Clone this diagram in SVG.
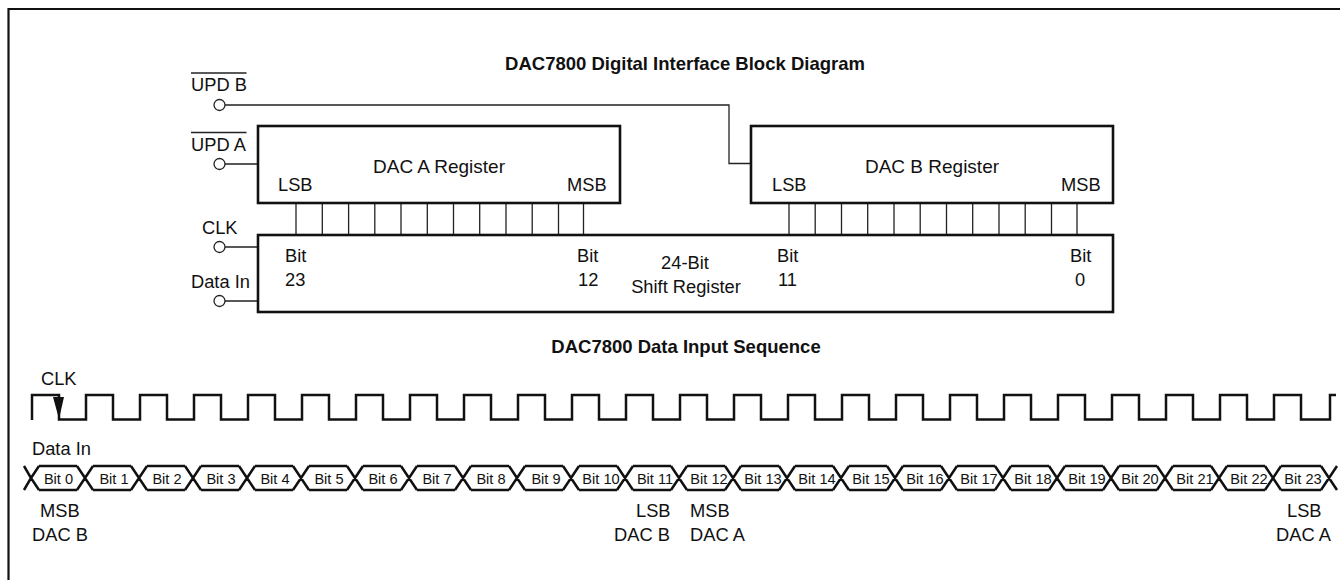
<svg xmlns="http://www.w3.org/2000/svg" width="1340" height="580" viewBox="0 0 1340 580">
<style>
text{font-family:"Liberation Sans",Arial,sans-serif;font-size:18.3px;fill:#111}
.t{font-weight:bold;font-size:18.5px}
.s{font-size:14.6px}
.m{text-anchor:middle}
.r{font-size:19px}
.box{fill:#fff;stroke:#111;stroke-width:2.6}
.thin{fill:none;stroke:#222;stroke-width:1.3}
.wave{fill:none;stroke:#111;stroke-width:2.5}
.pin{fill:#fff;stroke:#222;stroke-width:1.3}
</style>
<rect width="1340" height="580" fill="#fff"/>
<path d="M8.500 580V9H1340" fill="none" stroke="#111" stroke-width="2.200"/>
<text class="t m" x="685" y="70">DAC7800 Digital Interface Block Diagram</text>
<text class="t m" x="686" y="353">DAC7800 Data Input Sequence</text>
<g id="connectors">
<path class="thin" d="M225 105H729V163.500H751"/>
<path class="thin" d="M225 164H258M225 247H258M225 301H258"/>
<path class="thin" d="M296 203V235M322.300 203V235M348.600 203V235M374.800 203V235M401 203V235M427.300 203V235M453.500 203V235M479.700 203V235M506 203V235M532.200 203V235M558.500 203V235M583.500 203V235"/>
<path class="thin" d="M789 203V235M815.200 203V235M841.500 203V235M867.700 203V235M894 203V235M920.200 203V235M946.500 203V235M972.700 203V235M999 203V235M1025.200 203V235M1051.500 203V235M1077 203V235"/>
</g>
<g id="upd-b"><circle class="pin" cx="219.500" cy="105" r="5.500"/><text x="191" y="91">UPD B</text><path class="thin" d="M191 73H246.500"/></g>
<g id="upd-a"><circle class="pin" cx="219.500" cy="164" r="5.500"/><text x="191" y="151">UPD A</text><path class="thin" d="M191 132.500H246.500"/></g>
<g id="clk"><circle class="pin" cx="219.500" cy="247" r="5.500"/><text x="202" y="234">CLK</text></g>
<g id="data-in"><circle class="pin" cx="219.500" cy="301" r="5.500"/><text x="191" y="288">Data In</text></g>
<g id="dac-a"><rect class="box" x="258" y="126" width="362" height="77"/><text class="m r" x="439" y="173">DAC A Register</text><text x="278" y="191">LSB</text><text x="567" y="191">MSB</text></g>
<g id="dac-b"><rect class="box" x="751" y="126" width="362" height="77"/><text class="m r" x="932" y="173">DAC B Register</text><text x="772" y="191">LSB</text><text x="1061" y="191">MSB</text></g>
<g id="shift"><rect class="box" x="258" y="235" width="855" height="77"/>
<text x="285" y="262">Bit</text><text x="285" y="286">23</text>
<text x="577" y="262">Bit</text><text x="578" y="286">12</text>
<text class="m" x="685" y="269">24-Bit</text><text class="m" x="686" y="293">Shift Register</text>
<text x="777" y="262">Bit</text><text x="778" y="286">11</text>
<text x="1070" y="262">Bit</text><text x="1075" y="286">0</text></g>
<g id="clk-wave">
<text x="41" y="385">CLK</text>
<path class="wave" d="M32 420V395H59V419.500H86V395H113V419.500H140V395H167V419.500H194V395H221V419.500H248V395H275V419.500H302V395H329V419.500H356V395H383V419.500H410V395H437V419.500H464V395H491V419.500H518V395H545V419.500H572V395H599V419.500H626V395H653V419.500H680V395H707V419.500H734V395H761V419.500H788V395H815V419.500H842V395H869V419.500H896V395H923V419.500H950V395H977V419.500H1004V395H1031V419.500H1058V395H1085V419.500H1112V395H1139V419.500H1166V395H1193V419.500H1220V395H1247V419.500H1274V395H1301V419.500H1330V395H1336"/>
<path d="M53 397H64L59 419Z" fill="#111"/>
</g>
<g id="data-wave">
<text x="32" y="455">Data In</text>
<path class="wave" d="M24 466L31 478L24 490M39 466L31 478L39 490M39 466H77M39 490H77M77 466L93 490M77 490L93 466M93 466H131M93 490H131M131 466L147 490M131 490L147 466M147 466H185M147 490H185M185 466L201 490M185 490L201 466M201 466H239M201 490H239M239 466L255 490M239 490L255 466M255 466H293M255 490H293M293 466L309 490M293 490L309 466M309 466H347M309 490H347M347 466L363 490M347 490L363 466M363 466H401M363 490H401M401 466L417 490M401 490L417 466M417 466H455M417 490H455M455 466L471 490M455 490L471 466M471 466H509M471 490H509M509 466L525 490M509 490L525 466M525 466H563M525 490H563M563 466L579 490M563 490L579 466M579 466H617M579 490H617M617 466L633 490M617 490L633 466M633 466H671M633 490H671M671 466L687 490M671 490L687 466M687 466H725M687 490H725M725 466L741 490M725 490L741 466M741 466H779M741 490H779M779 466L795 490M779 490L795 466M795 466H833M795 490H833M833 466L849 490M833 490L849 466M849 466H887M849 490H887M887 466L903 490M887 490L903 466M903 466H941M903 490H941M941 466L957 490M941 490L957 466M957 466H995M957 490H995M995 466L1011 490M995 490L1011 466M1011 466H1049M1011 490H1049M1049 466L1065 490M1049 490L1065 466M1065 466H1103M1065 490H1103M1103 466L1119 490M1103 490L1119 466M1119 466H1157M1119 490H1157M1157 466L1173 490M1157 490L1173 466M1173 466H1211M1173 490H1211M1211 466L1227 490M1211 490L1227 466M1227 466H1265M1227 490H1265M1265 466L1281 490M1265 490L1281 466M1281 466H1321M1281 490H1321M1321 466L1337 490M1321 490L1337 466"/>
<text class="s m" x="58.500" y="484">Bit 0</text><text class="s m" x="114" y="484">Bit 1</text><text class="s m" x="167" y="484">Bit 2</text><text class="s m" x="221" y="484">Bit 3</text><text class="s m" x="275" y="484">Bit 4</text><text class="s m" x="329" y="484">Bit 5</text><text class="s m" x="383" y="484">Bit 6</text><text class="s m" x="437" y="484">Bit 7</text><text class="s m" x="491" y="484">Bit 8</text><text class="s m" x="546" y="484">Bit 9</text><text class="s m" x="601" y="484">Bit 10</text><text class="s m" x="655" y="484">Bit 11</text><text class="s m" x="709" y="484">Bit 12</text><text class="s m" x="763" y="484">Bit 13</text><text class="s m" x="817" y="484">Bit 14</text><text class="s m" x="871" y="484">Bit 15</text><text class="s m" x="925" y="484">Bit 16</text><text class="s m" x="979" y="484">Bit 17</text><text class="s m" x="1033" y="484">Bit 18</text><text class="s m" x="1087" y="484">Bit 19</text><text class="s m" x="1140" y="484">Bit 20</text><text class="s m" x="1195" y="484">Bit 21</text><text class="s m" x="1249" y="484">Bit 22</text><text class="s m" x="1303" y="484">Bit 23</text>
<text x="40" y="517">MSB</text><text x="32" y="541">DAC B</text>
<text x="636" y="517">LSB</text><text x="614" y="541">DAC B</text>
<text x="690" y="517">MSB</text><text x="690" y="541">DAC A</text>
<text x="1287" y="517">LSB</text><text x="1276" y="541">DAC A</text>
</g>
</svg>
